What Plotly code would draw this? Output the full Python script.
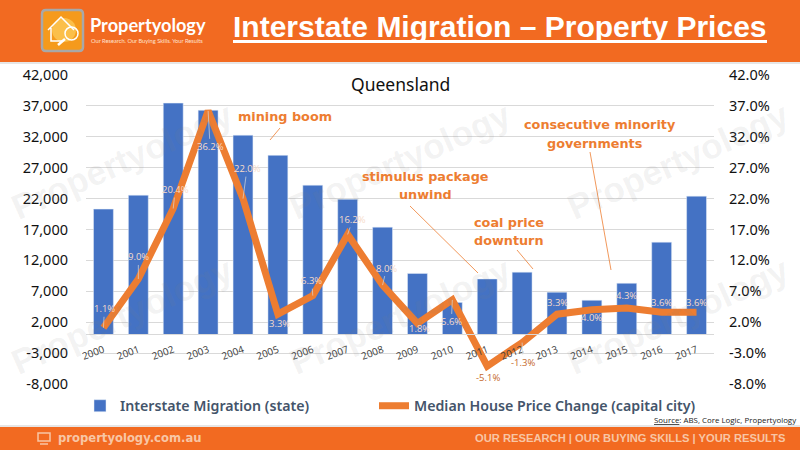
import plotly.graph_objects as go

years = list(range(2000, 2018))
migration = [20300, 22550, 37450, 36300, 32260, 29000, 24170, 21900, 17380, 9900, 5200, 9000, 10100, 6850, 5550, 8300, 14950, 22400]
price_change = [1.1, 9.0, 20.4, 36.2, 22.0, 3.3, 6.3, 16.2, 8.0, 1.8, 5.6, -5.1, -1.3, 3.3, 4.0, 4.3, 3.6, 3.6]
left_ticks = [-8000, -3000, 2000, 7000, 12000, 17000, 22000, 27000, 32000, 37000, 42000]
left_labels = ["-8,000", "-3,000", "2,000", "7,000", "12,000", "17,000", "22,000", "27,000", "32,000", "37,000", "42,000"]
right_ticks = [-8, -3, 2, 7, 12, 17, 22, 27, 32, 37, 42]
right_labels = ["-8.0%", "-3.0%", "2.0%", "7.0%", "12.0%", "17.0%", "22.0%", "27.0%", "32.0%", "37.0%", "42.0%"]

# label placement (pixel offset from the point), and whether a leader line is shown
label_dx = [1, 0, 2, 2, 4, 2, -1, 5, 4, 2, -1, 1, 1, 0, 0, 0, 0, 0]
label_dy = [-19, -22, -19, 36, -30, 9, -15, -15, -17, 5, 22, 11, 20, -12, 8, -12, -10, -10]
leader = [1, 1, 1, 1, 1, 0, 1, 1, 1, 0, 1, 0, 1, 0, 0, 0, 0, 0]

ORANGE = "#f26a21"
LINE = "#ed7d31"
BLUE = "#4472c4"
L, R, T, B = 86, 714, 75, 384


def X(px):
    return (px - L) / (R - L)


def Y(py):
    return (B - py) / (B - T)


fig = go.Figure()
fig.add_trace(go.Bar(x=years, y=migration, name="Interstate Migration (state)", marker_color=BLUE, yaxis="y", legend="legend"))
fig.add_trace(go.Scatter(x=years, y=price_change, name="Median House Price Change (capital city)", mode="lines",
                         line=dict(color=LINE, width=7, shape="linear"), yaxis="y2", legend="legend2"))

ann = []
shapes = []


def text(px, py, s, size, color, family="Noto Sans", anchor="center", angle=0):
    ann.append(dict(xref="paper", yref="paper", x=X(px), y=Y(py), text=s, showarrow=False, xanchor=anchor, yanchor="middle",
                    textangle=angle, font=dict(size=size, color=color, family=family)))


def rect(x0, y0, x1, y1, color):
    shapes.append(dict(type="rect", xref="paper", yref="paper", x0=X(x0), x1=X(x1), y0=Y(y0), y1=Y(y1),
                       fillcolor=color, line_width=0, layer="above"))


def seg(x0, y0, x1, y1, color=LINE, width=0.8):
    shapes.append(dict(type="line", xref="paper", yref="paper", x0=X(x0), x1=X(x1), y0=Y(y0), y1=Y(y1),
                       line=dict(color=color, width=width), layer="above"))


# watermarks
for cx in (122, 400, 678):
    for cy in (160, 315):
        text(cx, cy, "<b>Propertyology</b>", 35, "rgba(130,130,130,0.10)", "Liberation Sans", angle=-24)

# data labels
for i, (yr, v) in enumerate(zip(years, price_change)):
    ann.append(dict(xref="x", yref="y2", x=yr, y=v, text=f"{v:.1f}%", axref="pixel", ayref="pixel",
                    ax=label_dx[i], ay=label_dy[i], showarrow=True, arrowhead=0, arrowwidth=0.7, standoff=0,
                    arrowcolor="#d9d9d9" if leader[i] else "rgba(0,0,0,0)",
                    font=dict(size=9.5, family="Open Sans", color="#c5682a" if v < 0 else "#f6dccb")))

# callouts
BOLD = "DejaVu Sans"
text(285, 116, "<b>mining boom</b>", 12.8, LINE, BOLD)
text(425, 176, "<b>stimulus package</b>", 12.8, LINE, BOLD)
text(425, 194, "<b>unwind</b>", 12.8, LINE, BOLD)
text(509, 222, "<b>coal price</b>", 12.8, LINE, BOLD)
text(509, 240, "<b>downturn</b>", 12.8, LINE, BOLD)
text(600, 125, "<b>consecutive minority</b>", 12.8, LINE, BOLD)
text(595, 143, "<b>governments</b>", 12.8, LINE, BOLD)
seg(280, 128, 270, 140)
seg(410, 206, 478, 273)
seg(517, 250, 533, 269)
seg(590, 152, 611, 270)

text(400, 84, "Queensland", 17.5, "#111111", "Noto Sans")

# header
rect(0, 0, 800, 62, ORANGE)
rect(0, 62, 800, 64, "#e6e6e6")
text(500, 26, "<b>Interstate Migration – Property Prices</b>", 30, "#ffffff", "Liberation Sans")
rect(233, 40, 767, 43, "#ffffff")
shapes.append(dict(type="path", xref="paper", yref="paper", fillcolor="#f59a1c", line=dict(color="#a8a8a8", width=2.5), layer="above",
                   path=f"M {X(46)} {Y(10)} L {X(79)} {Y(10)} Q {X(83)} {Y(10)} {X(83)} {Y(14)} L {X(83)} {Y(47)} Q {X(83)} {Y(51)} {X(79)} {Y(51)} "
                        f"L {X(46)} {Y(51)} Q {X(42)} {Y(51)} {X(42)} {Y(47)} L {X(42)} {Y(14)} Q {X(42)} {Y(10)} {X(46)} {Y(10)} Z"))
shapes.append(dict(type="circle", xref="paper", yref="paper", layer="above", x0=X(52), x1=X(76), y0=Y(18), y1=Y(42),
                   fillcolor="#fbbf4a", line_width=0))
shapes.append(dict(type="path", xref="paper", yref="paper", layer="above", line=dict(color="#ffffff", width=1.5),
                   path=f"M {X(48)} {Y(30)} L {X(61)} {Y(17)} L {X(74)} {Y(30)} M {X(51)} {Y(28)} L {X(51)} {Y(41)} L {X(62)} {Y(41)}"))
shapes.append(dict(type="circle", xref="paper", yref="paper", layer="above", x0=X(65), x1=X(78), y0=Y(27), y1=Y(40),
                   line=dict(color="#ffffff", width=1.5)))
seg(65, 39, 58, 45, "#ffffff", 2.5)
text(88, 25, "<b>Propertyology</b>", 18.2, "#ffffff", "Lato", "left")
text(89, 41, "Our Research. Our Buying Skills. Your Results", 5.7, "#ffe3d0", "Lato", "left")

# footer
rect(0, 425, 800, 428, "#e6e6e6")
rect(0, 427, 800, 450, ORANGE)
shapes.append(dict(type="rect", xref="paper", yref="paper", x0=X(38), x1=X(50), y0=Y(433), y1=Y(441),
                   line=dict(color="#f8c6a5", width=1.5), layer="above"))
seg(40, 444, 48, 444, "#f8c6a5", 1.5)
text(56, 438, "<b>propertyology.com.au</b>", 11.6, "#f8c6a5", "DejaVu Sans", "left")
text(473, 438, "<b>OUR RESEARCH | OUR BUYING SKILLS | YOUR RESULTS</b>", 11.2, "#f8c6a5", "Liberation Sans", "left")
text(652, 420, "<u>Source</u>: ABS, Core Logic, Propertyology", 7.9, "#222222", "Open Sans", "left")

axis_font = dict(size=14.5, family="Noto Sans", color="#111111")
legend_font = dict(size=14.2, family="Noto Sans", color="#44546a", weight=600)
fig.update_layout(
    width=800, height=450, autosize=False,
    margin=dict(l=L, r=800 - R, t=T, b=450 - B, pad=0),
    paper_bgcolor="#ffffff", plot_bgcolor="rgba(0,0,0,0)",
    bargap=0.43,
    xaxis=dict(range=[1999.5, 2017.5], tickvals=years, anchor="free", position=Y(334.4), showline=True, linecolor="#d9d9d9",
               linewidth=1, tickangle=-20, showgrid=False, zeroline=False, ticks="", ticklabelstandoff=5,
               tickfont=dict(size=10, family="Open Sans", color="#404040")),
    yaxis=dict(range=[-8000, 42000], tickvals=left_ticks, ticktext=left_labels, gridcolor="#d9d9d9", gridwidth=1,
               zeroline=False, tickfont=axis_font, ticks="", ticklabelstandoff=17),
    yaxis2=dict(range=[-8, 42], tickvals=right_ticks, ticktext=right_labels, overlaying="y", side="right",
                showgrid=False, zeroline=False, tickfont=axis_font, ticks="", ticklabelstandoff=14),
    legend=dict(x=X(80), y=Y(406), yanchor="middle", xanchor="left", itemwidth=30, bgcolor="rgba(0,0,0,0)", font=legend_font),
    legend2=dict(x=X(374), y=Y(406), yanchor="middle", xanchor="left", itemwidth=30, bgcolor="rgba(0,0,0,0)", font=legend_font),
    annotations=ann, shapes=shapes, showlegend=True,
)
fig.write_html("out.html", post_script="document.body.style.margin='0';", config=dict(displayModeBar=False))
